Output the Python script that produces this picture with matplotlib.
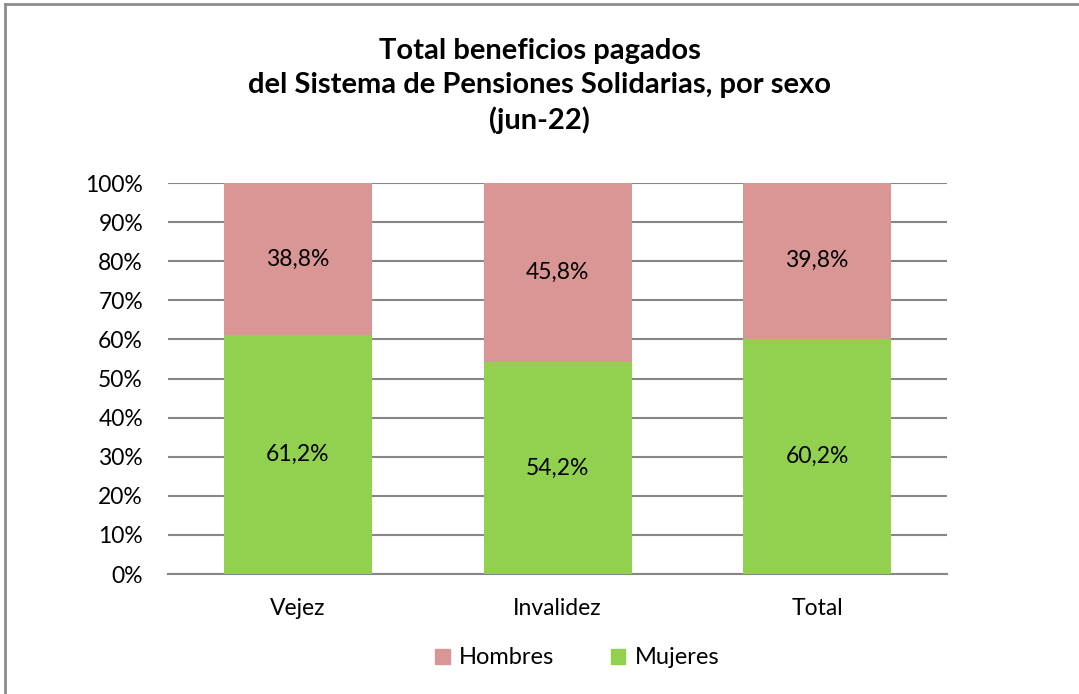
import matplotlib.pyplot as plt
from matplotlib.patches import Rectangle
from matplotlib.lines import Line2D

categorias = ['Vejez', 'Invalidez', 'Total']
mujeres = [61.2, 54.2, 60.2]
hombres = [38.8, 45.8, 39.8]
ticks_y = [0, 10, 20, 30, 40, 50, 60, 70, 80, 90, 100]

COLOR_H = '#D99694'
COLOR_M = '#92D050'
GRIS = '#868686'

plt.rcParams['font.family'] = ['Lato', 'DejaVu Sans']

fig = plt.figure(figsize=(10.79, 6.94), dpi=100)
ax = fig.add_axes([0.1557, 0.1729, 0.7220, 0.5634])

x = range(len(categorias))
ax.bar(x, mujeres, width=0.57, color=COLOR_M, label='Mujeres', zorder=3)
ax.bar(x, hombres, width=0.57, bottom=mujeres, color=COLOR_H,
       label='Hombres', zorder=3)

# etiquetas de datos
for i in x:
    ax.text(i, mujeres[i] / 2, f'{mujeres[i]:.1f}%'.replace('.', ','),
            ha='center', va='center', fontsize=16.5, color='#000000', zorder=4)
    ax.text(i, mujeres[i] + hombres[i] / 2, f'{hombres[i]:.1f}%'.replace('.', ','),
            ha='center', va='center', fontsize=16.5, color='#000000', zorder=4)

ax.set_xlim(-0.5, 2.5)
ax.set_ylim(0, 100)
ax.set_yticks(ticks_y)
ax.set_yticklabels([f'{t}%' for t in ticks_y])
ax.set_xticks(list(x))
ax.set_xticklabels(categorias)
ax.tick_params(axis='both', length=0, labelsize=16.5, colors='#000000')
ax.tick_params(axis='y', pad=18)
ax.tick_params(axis='x', pad=17)
ax.grid(axis='y', color=GRIS, linewidth=1.5, zorder=0)
for s in ['top', 'right', 'left']:
    ax.spines[s].set_visible(False)
ax.spines['bottom'].set_color(GRIS)
ax.spines['bottom'].set_linewidth(1.5)

fig.text(0.5, 0.876, 'Total beneficios pagados\ndel Sistema de Pensiones Solidarias, por sexo\n(jun-22)',
         ha='center', va='center', fontsize=21, fontweight='bold', linespacing=1.38)

handles = [Rectangle((0, 0), 1, 1, color=COLOR_H), Rectangle((0, 0), 1, 1, color=COLOR_M)]
fig.legend(handles, ['Hombres', 'Mujeres'], loc='center', bbox_to_anchor=(0.535, 0.052),
           ncol=2, frameon=False, fontsize=17, handlelength=0.6, handleheight=0.6,
           handletextpad=0.4, columnspacing=2.4)

# marco del gráfico
fig.add_artist(Line2D([0.0046, 0.0046], [0, 0.9942], color='#8C8C8C', linewidth=2))
fig.add_artist(Line2D([0.0046, 1.0], [0.9942, 0.9942], color='#8C8C8C', linewidth=2))

fig.savefig('out.png', dpi=100)
